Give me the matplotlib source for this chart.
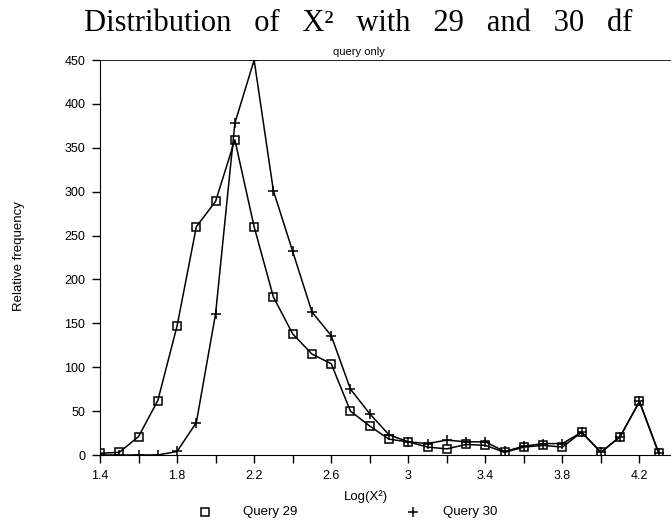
import numpy as np
import matplotlib.pyplot as plt
from matplotlib.lines import Line2D

log_x2 = np.round(np.arange(1.4, 4.35, 0.1), 1)

query_29 = [2, 3, 21, 62, 147, 260, 289, 359, 260, 180,
            138, 115, 104, 50, 33, 18, 15, 9, 7, 12,
            11, 3, 9, 11, 9, 26, 3, 21, 61, 2]
query_30 = [0, 0, 0, 0, 4, 37, 161, 378, 450, 301,
            232, 163, 136, 75, 47, 23, 15, 13, 17, 15,
            15, 4, 10, 13, 13, 26, 3, 21, 61, 2]

X_TICKS = [1.4, 1.8, 2.2, 2.6, 3.0, 3.4, 3.8, 4.2]
X_LABELS = ['1.4', '1.8', '2.2', '2.6', '3', '3.4', '3.8', '4.2']

plt.rcParams['font.family'] = ['Liberation Sans', 'DejaVu Sans']

W, H = 671, 522
fig = plt.figure(figsize=(W / 100, H / 100), dpi=100)
ax = fig.add_axes([100 / W, 67 / H, 578 / W, 395 / H])

ax.plot(log_x2, query_29, color='black', lw=1.1, marker='s', ms=5.5,
        mfc='none', mec='black', mew=1.1)
ax.plot(log_x2, query_30, color='black', lw=1.1, marker='+', ms=7, mew=1.1)

ax.set_xlim(1.4, 4.4)
ax.set_ylim(0, 450)
ax.set_xticks(X_TICKS)
ax.set_xticklabels(X_LABELS)
ax.set_xticks(np.arange(1.6, 4.4, 0.4), minor=True)
ax.set_yticks(range(0, 451, 50))
ax.tick_params(axis='both', which='both', direction='out', labelsize=9, width=1, length=5.5)
ax.tick_params(axis='x', which='major', pad=5)
ax.tick_params(axis='y', pad=5)
ax.spines['right'].set_visible(False)
ax.spines['top'].set_linewidth(0.6)

fig.text(19 / W, 1 - 256 / H, 'Relative frequency', rotation=90,
         ha='center', va='center', fontsize=9.5)
fig.text(366 / W, 1 - 497 / H, 'Log(X²)', ha='center', va='center', fontsize=9.5)

fig.text(358 / W, 1 - 31 / H, 'Distribution   of   X²   with   29   and   30   df',
         ha='center', va='baseline', fontsize=22, family='Liberation Serif')
fig.text(359 / W, 1 - 52 / H, 'query only', ha='center', va='center', fontsize=8)

# legend drawn by hand to sit where the original puts it
leg_y = 1 - 512 / H
fig.add_artist(Line2D([205 / W], [leg_y], transform=fig.transFigure, ls='none',
                      marker='s', ms=5.5, mfc='none', mec='black', mew=1.1))
fig.text(243 / W, leg_y, 'Query 29', ha='left', va='center', fontsize=9.5)
fig.add_artist(Line2D([413 / W], [leg_y], transform=fig.transFigure, ls='none',
                      marker='+', ms=7, mec='black', mew=1.1))
fig.text(443 / W, leg_y, 'Query 30', ha='left', va='center', fontsize=9.5)

fig.savefig('out.png', dpi=100)
